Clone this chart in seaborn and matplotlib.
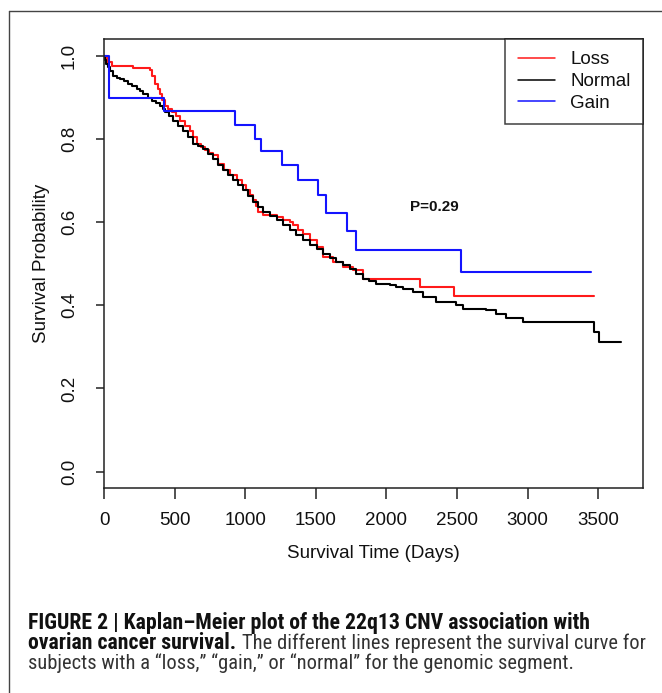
import matplotlib
matplotlib.use("Agg")
import matplotlib.pyplot as plt
import seaborn as sns
import pandas as pd
from matplotlib.lines import Line2D
from matplotlib import font_manager as fm

# ---------------- data ----------------
groups = ["Loss", "Normal", "Gain"]
colors = {"Loss": "#ff1a1a", "Normal": "#000000", "Gain": "#1414ff"}

loss_time = [0, 20, 60, 207, 325, 343, 361, 380, 396, 413, 431, 455, 479, 508, 538,
             573, 608, 632, 656, 685, 714, 743, 773, 809, 850, 891, 939, 974, 1009,
             1033, 1056, 1075, 1092, 1127, 1222, 1268, 1316, 1339, 1375, 1410, 1458,
             1505, 1551, 1622, 1693, 1764, 1834, 2235, 2476, 3473]
loss_surv = [1.0, 0.985, 0.975, 0.970, 0.966, 0.950, 0.932, 0.920, 0.908, 0.894, 0.880,
             0.872, 0.864, 0.854, 0.844, 0.832, 0.820, 0.804, 0.788, 0.780, 0.772, 0.766,
             0.760, 0.740, 0.726, 0.712, 0.700, 0.688, 0.676, 0.664, 0.652, 0.638, 0.624,
             0.616, 0.612, 0.604, 0.600, 0.592, 0.582, 0.572, 0.556, 0.540, 0.516, 0.504,
             0.492, 0.484, 0.462, 0.444, 0.422, 0.422]

normal_time = [0, 5, 15, 30, 45, 66, 90, 113, 140, 172, 200, 231, 255, 278, 310, 337, 365,
               396, 415, 431, 460, 490, 525, 561, 597, 632, 665, 702, 738, 773, 808, 844,
               880, 915, 950, 985, 1020, 1056, 1090, 1127, 1175, 1222, 1270, 1316, 1363,
               1410, 1458, 1505, 1551, 1600, 1646, 1693, 1740, 1787, 1834, 1880, 1929,
               2023, 2070, 2118, 2188, 2259, 2353, 2495, 2542, 2707, 2778, 2849, 2966,
               3473, 3509, 3662]
normal_surv = [1.0, 0.990, 0.980, 0.972, 0.962, 0.952, 0.947, 0.944, 0.939, 0.932, 0.926,
               0.920, 0.914, 0.908, 0.899, 0.892, 0.886, 0.880, 0.872, 0.864, 0.855, 0.844,
               0.832, 0.820, 0.804, 0.788, 0.782, 0.776, 0.764, 0.752, 0.738, 0.724, 0.712,
               0.700, 0.688, 0.676, 0.662, 0.648, 0.636, 0.624, 0.614, 0.604, 0.592, 0.580,
               0.568, 0.556, 0.546, 0.536, 0.524, 0.514, 0.504, 0.496, 0.488, 0.476, 0.464,
               0.458, 0.452, 0.448, 0.444, 0.440, 0.432, 0.420, 0.408, 0.400, 0.392, 0.388,
               0.380, 0.370, 0.360, 0.336, 0.312, 0.312]

gain_time = [0, 35, 424, 931, 1068, 1115, 1262, 1375, 1512, 1575, 1720, 1785, 2525, 3450]
gain_surv = [1.0, 0.898, 0.866, 0.834, 0.800, 0.770, 0.738, 0.702, 0.666, 0.622, 0.578,
             0.532, 0.480, 0.480]

x_ticks = [0, 500, 1000, 1500, 2000, 2500, 3000, 3500]
y_ticks = [0.0, 0.2, 0.4, 0.6, 0.8, 1.0]
p_text = "P=0.29"
x_label = "Survival Time (Days)"
y_label = "Survival Probability"
cap_line1 = "FIGURE 2 | Kaplan\u2013Meier plot of the 22q13 CNV association with"
cap_line2_bold = "ovarian cancer survival."
cap_line2_reg = "The different lines represent the survival curve for"
cap_line3 = "subjects with a \u201closs,\u201d \u201cgain,\u201d or \u201cnormal\u201d for the genomic segment."

df = pd.concat([
    pd.DataFrame({"time": loss_time, "surv": loss_surv, "group": "Loss"}),
    pd.DataFrame({"time": normal_time, "surv": normal_surv, "group": "Normal"}),
    pd.DataFrame({"time": gain_time, "surv": gain_surv, "group": "Gain"}),
], ignore_index=True)

# ---------------- figure ----------------
sns.set_style("white")
plt.rcParams["font.family"] = ["Liberation Sans", "DejaVu Sans"]

# pick a condensed face for the caption if one is installed
cap_props = None
for fam, stretch in [("Liberation Sans Narrow", "normal"), ("Arial Narrow", "normal"),
                     ("Roboto Condensed", "normal"), ("Open Sans Condensed", "normal"),
                     ("DejaVu Sans Condensed", "normal"), ("DejaVu Sans", "condensed")]:
    try:
        path = fm.findfont(fm.FontProperties(family=fam, stretch=stretch),
                           fallback_to_default=False)
        if "ondensed" in path or "Narrow" in path:
            cap_props = dict(family=fam, stretch=stretch)
            break
    except Exception:
        pass
if cap_props is None:
    cap_props = dict(family=["Liberation Sans", "DejaVu Sans"])

W, H = 662, 693
fig = plt.figure(figsize=(W / 100, H / 100), dpi=100)
fig.patch.set_facecolor("white")
ax = fig.add_axes([104 / W, 1 - 488.3 / H, (642.7 - 104) / W, (488.3 - 39) / H])

sns.lineplot(data=df, x="time", y="surv", hue="group", hue_order=groups,
             palette=colors, estimator=None, sort=False, drawstyle="steps-post",
             linewidth=1.5, legend=False, ax=ax)

ax.set_xlim(0, 3815)
ax.set_ylim(-0.04, 1.04)
ax.set_xticks(x_ticks)
ax.set_xticklabels([str(v) for v in x_ticks])
ax.set_yticks(y_ticks)
ax.set_yticklabels([f"{v:.1f}" for v in y_ticks])

for s in ax.spines.values():
    s.set_visible(True)
    s.set_color("#222222")
    s.set_linewidth(1.1)

ax.tick_params(axis="x", length=8, width=1.1, color="#222222", pad=9,
               labelsize=13.5, labelcolor="#111111", direction="out", bottom=True)
ax.tick_params(axis="y", length=6, width=1.1, color="#222222", pad=19,
               labelsize=13.5, labelcolor="#111111", direction="out", left=True)
for lab in ax.get_yticklabels():
    lab.set_rotation(90)
    lab.set_ha("center")
    lab.set_va("center")

ax.set_xlabel(x_label, fontsize=13.5, color="#111111")
ax.set_ylabel(y_label, fontsize=13.5, color="#111111")
ax.xaxis.set_label_coords(0.5, (488.3 - 553) / 449.3)
ax.xaxis.label.set_va("center")
ax.yaxis.set_label_coords((41.7 - 104) / 538.7, 0.5)
ax.yaxis.label.set_va("center")

ax.text(2339, 0.636, p_text, ha="center", va="center", fontsize=11,
        fontweight="bold", color="#111111")

handles = [Line2D([], [], color=colors[g], lw=1.1) for g in groups]
leg = ax.legend(handles, groups, loc="upper right", bbox_to_anchor=(1, 1),
                borderaxespad=0, fontsize=13.5, handlelength=2.0, handletextpad=0.8,
                borderpad=0.65, labelspacing=0.25, frameon=True, fancybox=False)
leg.get_frame().set_edgecolor("#111111")
leg.get_frame().set_linewidth(1.1)
for t in leg.get_texts():
    t.set_color("#111111")

# outer frame (left and top)
fig.add_artist(Line2D([9 / W, 9 / W], [0, 1 - 10.5 / H], transform=fig.transFigure,
                      color="#444444", lw=1.0))
fig.add_artist(Line2D([9 / W, 1], [1 - 10.5 / H, 1 - 10.5 / H], transform=fig.transFigure,
                      color="#444444", lw=1.0))

# caption: one regular size fitted to line 2's width, bold slightly larger
fs0 = 12.5
bold_ratio = 1.06
x0 = 28 / W
t1 = fig.text(x0, 1 - 629.3 / H, cap_line1, fontsize=fs0 * bold_ratio, fontweight="bold",
              color="#111111", va="baseline", **cap_props)
t2b = fig.text(x0, 1 - 649.3 / H, cap_line2_bold, fontsize=fs0 * bold_ratio,
               fontweight="bold", color="#111111", va="baseline", **cap_props)
t2r = fig.text(x0, 1 - 649.3 / H, cap_line2_reg, fontsize=fs0,
               color="#333333", va="baseline", **cap_props)
t3 = fig.text(x0, 1 - 669.3 / H, cap_line3, fontsize=fs0,
              color="#333333", va="baseline", **cap_props)

renderer = fig.canvas.get_renderer()
wb = t2b.get_window_extent(renderer).width
wr = t2r.get_window_extent(renderer).width
gap = 0.28 * fs0 * 100 / 72
scale = (647 - 28) / (wb + gap + wr)
fs = fs0 * scale
t1.set_fontsize(fs * bold_ratio)
t2b.set_fontsize(fs * bold_ratio)
t2r.set_fontsize(fs)
t3.set_fontsize(fs)
renderer = fig.canvas.get_renderer()
bx1 = t2b.get_window_extent(renderer).x1
t2r.set_x((bx1 + 0.28 * fs * 100 / 72) / W)

fig.savefig("out.png", dpi=100, facecolor="white")
